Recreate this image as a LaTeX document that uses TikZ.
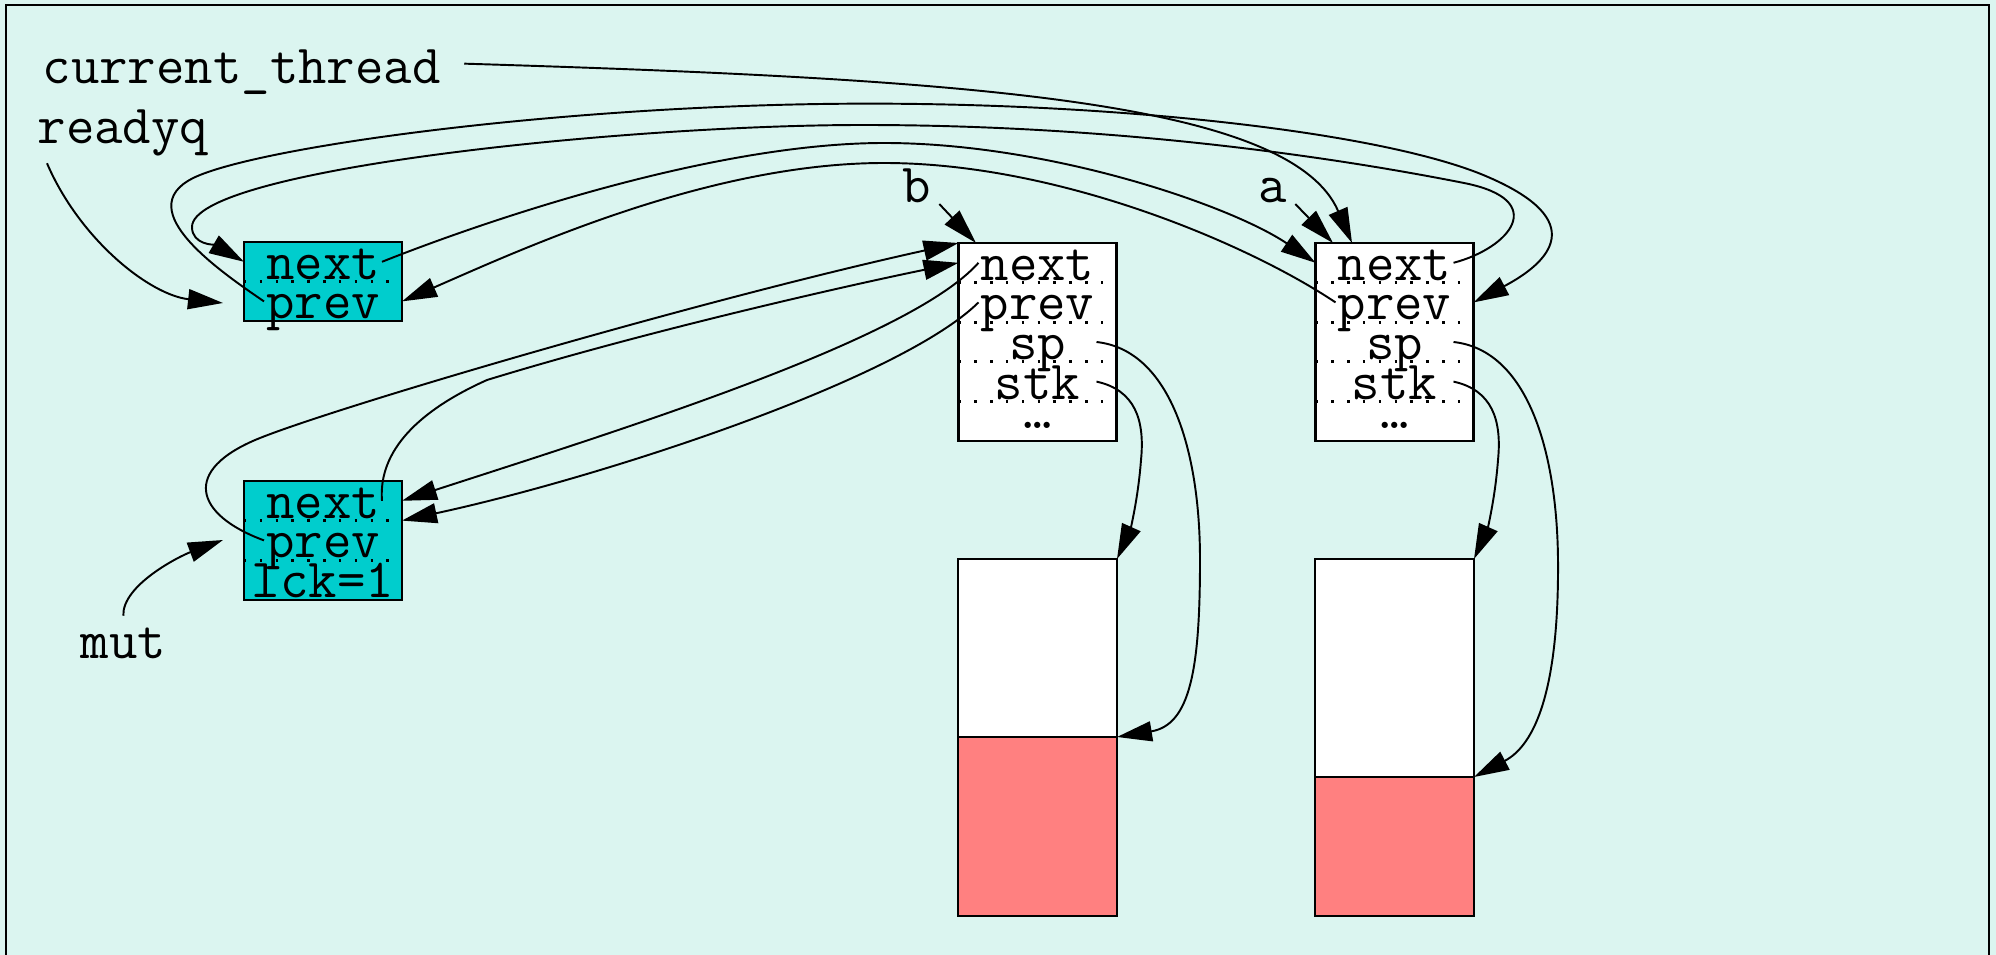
\documentclass[tikz,border=0pt]{standalone}
\usepackage{fontspec}
\setmonofont{Latin Modern Mono}
\usetikzlibrary{arrows.meta,positioning}
\definecolor{mintbg}{RGB}{219,245,240}
\definecolor{lockcyan}{RGB}{0,205,205}
\definecolor{stackred}{RGB}{255,128,128}

\tikzset{
  lbl/.style={font=\ttfamily\fontsize{15.7}{18}\selectfont,inner sep=0pt,anchor=base west},
  recbox/.style={draw,line width=0.6pt,fill=white,minimum width=15.8mm,inner sep=0pt,outer sep=0pt},
  field/.style={font=\ttfamily\fontsize{15.7}{18}\selectfont,minimum width=11.8mm,minimum height=3.96mm,
    text height=3.5mm,text depth=0pt,inner sep=0pt,outer sep=0pt},
  fieldsep/.style={line width=0.8pt,dash pattern=on 0.7pt off 3.8pt},
  stkfree/.style={draw,line width=0.6pt,fill=white,minimum width=15.9mm,inner sep=0pt,outer sep=0pt},
  stkused/.style={stkfree,fill=stackred},
  ptr/.style={-{Triangle[length=3.5mm,width=2mm]},line width=0.55pt}
}

\begin{document}
\begin{tikzpicture}[x=0.1mm,y=-0.1mm]
\path[use as bounding box,fill=mintbg] (0,0) rectangle (1996,955);
\draw[line width=0.7pt] (6,955) -- (6,5) -- (1989,5) -- (1989,955);

% records
\node[recbox,fill=lockcyan,minimum height=7.92mm] (rq) at (323,281.6) {};
\node[recbox,fill=lockcyan,minimum height=11.88mm] (mtx) at (323,540.4) {};
\node[recbox,minimum height=19.8mm] (thb) at (1037.5,342) {};
\node[recbox,minimum height=19.8mm] (tha) at (1394.5,342) {};

\node[field,below=0pt of rq.north] (rq-next) {next};
\node[field,below=0pt of rq-next] (rq-prev) {prev};
\node[field,below=0pt of mtx.north] (mtx-next) {next};
\node[field,below=0pt of mtx-next] (mtx-prev) {prev};
\node[field,below=0pt of mtx-prev] (mtx-lck) {lck=1};
\foreach \t in {thb,tha}{
  \node[field,below=0pt of \t.north] (\t-next) {next};
  \node[field,below=0pt of \t-next] (\t-prev) {prev};
  \node[field,below=0pt of \t-prev] (\t-sp) {sp};
  \node[field,below=0pt of \t-sp] (\t-stk) {stk};
  \node[field,below=0pt of \t-stk] (\t-more) {\raisebox{1mm}{…}};
  \foreach \f in {next,prev,sp,stk}
    \draw[fieldsep] (\t.west |- \t-\f.south) -- (\t.east |- \t-\f.south);
}
\draw[fieldsep] (rq.west |- rq-next.south) -- (rq.east |- rq-next.south);
\foreach \f in {next,prev}
  \draw[fieldsep] (mtx.west |- mtx-\f.south) -- (mtx.east |- mtx-\f.south);

% stacks
\node[stkfree,minimum height=17.8mm,below=11.8mm of thb] (thb-free) {};
\node[stkused,minimum height=17.9mm,below=0pt of thb-free] (thb-used) {};
\node[stkfree,minimum height=21.8mm,below=11.8mm of tha] (tha-free) {};
\node[stkused,minimum height=13.9mm,below=0pt of tha-free] (tha-used) {};

% names
\node[lbl] (curthr) at (42,84) {current\_thread};
\node[lbl] (readyq) at (37,144) {readyq};
\node[lbl] (mut) at (80,658) {mut};
\node[lbl] (b-lbl) at (902,203) {b};
\node[lbl] (a-lbl) at (1258,203) {a};
\coordinate (rq-in) at (223,303);
\coordinate (mtx-in) at (223,540);

% pointers
\draw[ptr] ([xshift=1mm,yshift=-0.6mm]readyq.south west) .. controls (80,240) and (150,295) .. (rq-in);
\draw[ptr] ([yshift=1.1mm]mut.north) .. controls (122,585) and (180,556) .. (mtx-in);
\draw[ptr] ([xshift=2.3mm,yshift=0.9mm]curthr.east) .. controls (964,79) and (1290,100) .. ([xshift=-4.25mm]tha.north);
\draw[ptr] ([xshift=0.75mm]b-lbl.south east) -- ([xshift=-6.15mm]thb.north);
\draw[ptr] ([xshift=0.75mm]a-lbl.south east) -- ([xshift=-6.15mm]tha.north);

% readyq ring
\draw[ptr] (rq-prev.west) .. controls (215,268) and (125,205) .. (200,175)
  .. controls (275,145) and (550,108) .. (821,104)
  .. controls (1092,100) and (1380,130) .. (1488,177)
  .. controls (1590,221) and (1550,262) .. (tha.east |- tha-prev);
\draw[ptr] (tha-next.east) .. controls (1510,248) and (1550,200) .. (1464,183)
  .. controls (1378,166) and (1150,125) .. (863,125)
  .. controls (620,125) and (192,170) .. (192,227)
  .. controls (192,245) and (215,245) .. (rq.west |- rq-next);
\draw[ptr] (rq-next.east) .. controls (500,215) and (720,143) .. (884,143)
  .. controls (1048,143) and (1230,205) .. (tha.west |- tha-next);
\draw[ptr] (tha-prev.west) .. controls (1250,245) and (1060,163) .. (884,163)
  .. controls (708,163) and (520,250) .. (rq.east |- rq-prev);

% mutex queue
\draw[ptr] (mtx-next.east) .. controls (378,450) and (420,410) .. (487,380)
  .. controls (650,330) and (850,285) .. (thb.west |- thb-next);
\draw[ptr] (mtx-prev.west) .. controls (195,515) and (180,470) .. (260,438)
  .. controls (340,406) and (700,300) .. (thb.north west);
\draw[ptr] (thb-next.west) .. controls (910,340) and (620,430) .. (mtx.east |- mtx-next);
\draw[ptr] (thb-prev.west) .. controls (900,380) and (600,478) .. (mtx.east |- mtx-next.south);

% stacks
\draw[ptr] (thb-sp.east) .. controls (1170,350) and (1200,450) .. (1200,560)
  .. controls (1200,670) and (1190,725) .. (thb-used.north east);
\draw[ptr] (thb-stk.east) .. controls (1135,390) and (1145,420) .. (1141,460)
  .. controls (1138,500) and (1130,530) .. (thb-free.north east);
\draw[ptr] (tha-sp.east) .. controls (1527,350) and (1557,450) .. (1558,560)
  .. controls (1559,690) and (1535,745) .. (tha-used.north east);
\draw[ptr] (tha-stk.east) .. controls (1492,390) and (1502,420) .. (1498,460)
  .. controls (1495,500) and (1487,530) .. (tha-free.north east);
\end{tikzpicture}
\end{document}
